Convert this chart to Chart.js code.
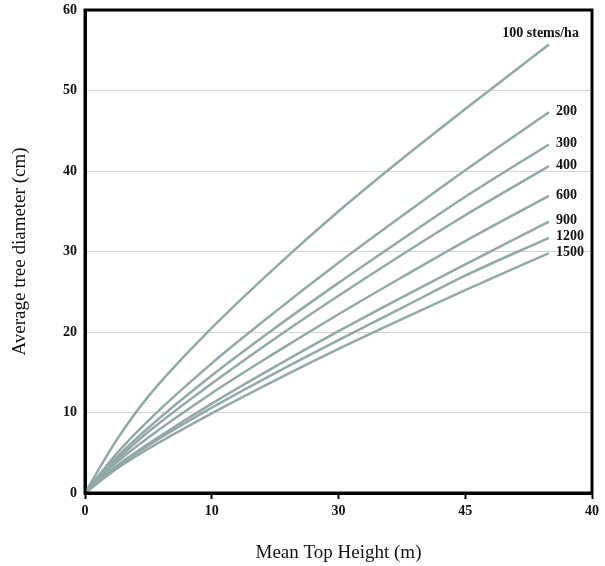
<!DOCTYPE html>
<html>
<head>
<meta charset="utf-8">
<script src="https://cdn.jsdelivr.net/npm/chart.js@4"></script>
<style>
  html, body { margin: 0; padding: 0; background: #fff; }
  #wrap { width: 605px; height: 566px; }
</style>
</head>
<body>
<div id="wrap"><canvas id="diamChart"></canvas></div>
<script>
// mean top height (m) at which each curve was read
const heights = [0, 2.5, 5, 10, 15, 20, 25, 30, 36.6];
// stocking (stems/ha) labels for each curve
const stockings = ["100 stems/ha", "200", "300", "400", "600", "900", "1200", "1500"];
// average tree diameter (cm) per stocking
const d100  = [0, 6.6, 12.0, 20.5, 28.0, 35.0, 41.5, 47.7, 55.7];
const d200  = [0, 4.9, 9.0, 16.1, 22.5, 28.6, 34.4, 40.1, 47.3];
const d300  = [0, 4.4, 8.1, 14.6, 20.5, 26.1, 31.5, 36.8, 43.3];
const d400  = [0, 4.1, 7.6, 13.6, 19.2, 24.5, 29.6, 34.5, 40.6];
const d600  = [0, 3.8, 6.9, 12.4, 17.4, 22.2, 26.8, 31.3, 36.9];
const d900  = [0, 3.35, 6.1, 11.1, 15.7, 20.1, 24.3, 28.4, 33.7];
const d1200 = [0, 3.2, 5.9, 10.6, 14.9, 19.0, 23.0, 27.0, 31.7];
const d1500 = [0, 3.0, 5.5, 9.9, 14.0, 17.9, 21.6, 25.2, 29.8];
// x tick labels as printed on the original axis
const xTickLabels = ["0", "10", "30", "45", "40"];

const series = [d100, d200, d300, d400, d600, d900, d1200, d1500];
const lineColor = "#94a8a8";
const serif = "'Liberation Serif', 'DejaVu Serif', serif";

document.addEventListener("DOMContentLoaded", () => {
  const ctx = document.getElementById("diamChart");

  // draws the black frame and the stocking labels at the line ends
  const framePlugin = {
    id: "frame",
    afterDatasetsDraw(chart) {
      const c = chart.ctx;
      const xs = chart.scales.x;
      const ys = chart.scales.y;
      c.save();
      c.fillStyle = "#111";
      c.font = "bold 14px " + serif;
      c.textBaseline = "middle";
      chart.data.datasets.forEach((ds, i) => {
        const last = ds.data[ds.data.length - 1];
        const px = xs.getPixelForValue(last.x);
        const py = ys.getPixelForValue(last.y);
        if (i === 0) {
          c.textAlign = "right";
          c.fillText(ds.label, px + 30, py - 11);
        } else {
          c.textAlign = "left";
          c.fillText(ds.label, px + 7, py - 1);
        }
      });
      const a = chart.chartArea;
      c.strokeStyle = "#000";
      c.lineWidth = 3;
      c.strokeRect(a.left, a.top, a.right - a.left, a.bottom - a.top);
      c.restore();
    }
  };

  new Chart(ctx, {
    type: "line",
    data: {
      datasets: series.map((vals, i) => ({
        label: stockings[i],
        data: vals.map((v, j) => ({ x: heights[j], y: v })),
        borderColor: lineColor,
        borderWidth: 2.5,
        pointRadius: 0,
        cubicInterpolationMode: "monotone",
        fill: false,
      })),
    },
    options: {
      responsive: true,
      maintainAspectRatio: false,
      animation: false,
      layout: { padding: { top: 10, right: 13, left: 0, bottom: 0 } },
      plugins: {
        legend: { display: false },
        tooltip: { enabled: false },
      },
      scales: {
        x: {
          type: "linear",
          min: 0,
          max: 40,
          afterFit: (s) => { s.height = 73; },
          ticks: {
            stepSize: 10,
            color: "#111",
            padding: 4,
            font: { family: serif, size: 14, weight: "bold" },
            callback: (v, i) => xTickLabels[i],
          },
          grid: {
            drawOnChartArea: false,
            drawTicks: true,
            tickLength: 6,
            tickColor: "#000",
            tickWidth: 2,
          },
          border: { color: "#000", width: 3 },
          title: {
            display: true,
            text: "Mean Top Height (m)",
            color: "#111",
            font: { family: serif, size: 19 },
            padding: { top: 2, bottom: 2 },
          },
        },
        y: {
          min: 0,
          max: 60,
          afterFit: (s) => { s.width = 85; s.paddingTop = 0; s.paddingBottom = 0; },
          ticks: {
            stepSize: 10,
            color: "#111",
            padding: 8,
            font: { family: serif, size: 14, weight: "bold" },
          },
          grid: {
            color: "#d4d4d4",
            lineWidth: 1,
            drawTicks: false,
          },
          border: { color: "#000", width: 3 },
          title: {
            display: true,
            text: "Average tree diameter (cm)",
            color: "#111",
            font: { family: serif, size: 19 },
            padding: { top: 9, bottom: 0 },
          },
        },
      },
    },
    plugins: [framePlugin],
  });
});
</script>
</body>
</html>
